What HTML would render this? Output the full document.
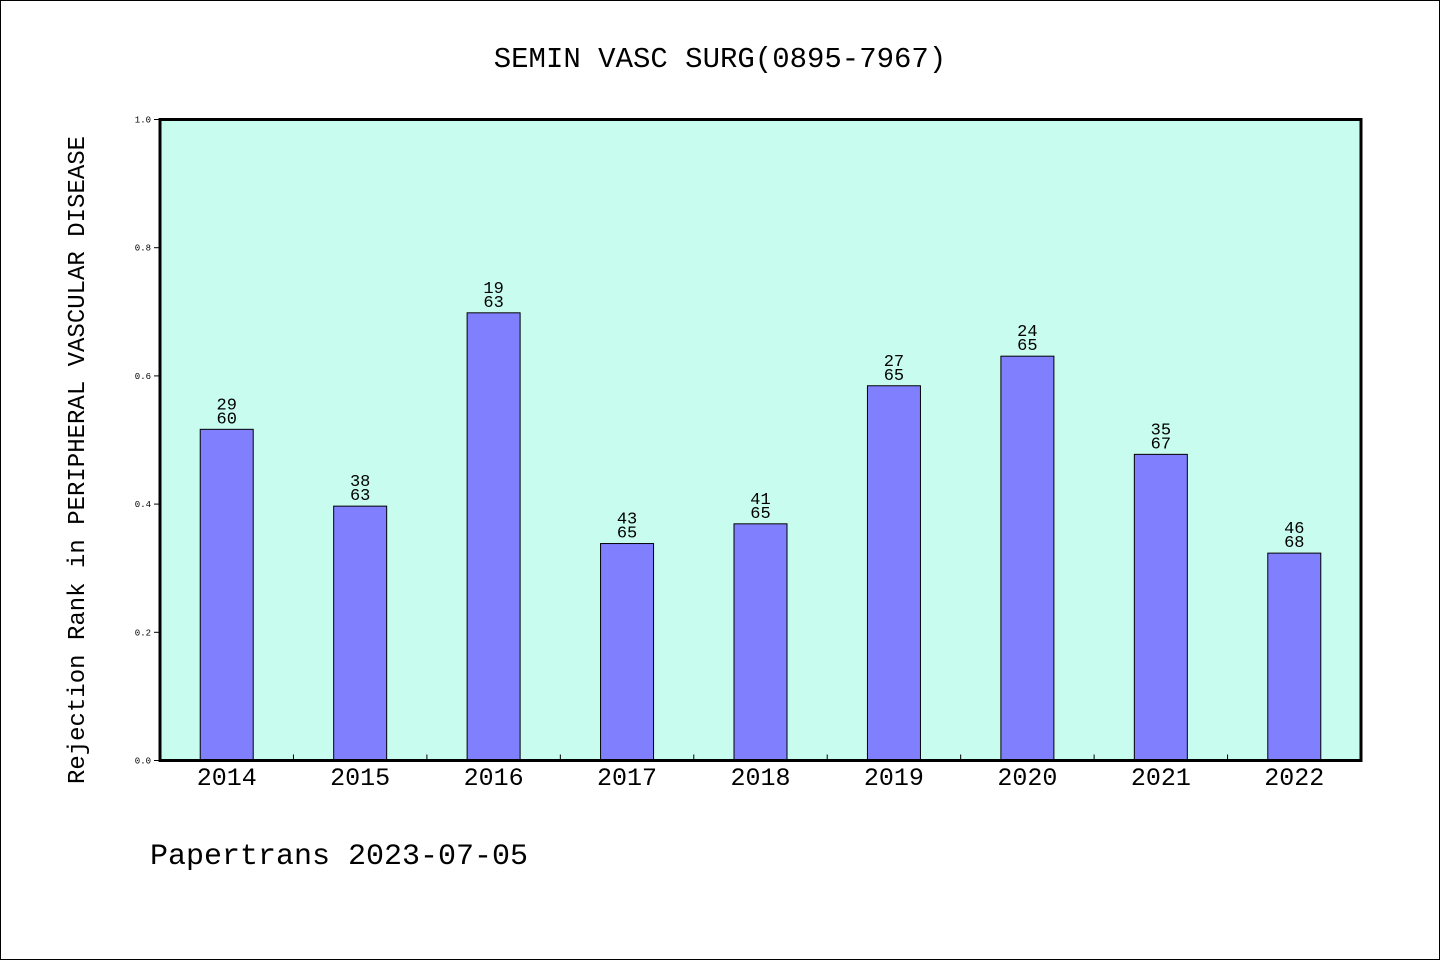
<!DOCTYPE html>
<html><head><meta charset="utf-8"><style>
html,body{margin:0;padding:0;background:#fff}
svg{display:block}
text{font-family:"Liberation Mono","WenQuanYi Zen Hei",monospace;fill:#000}
</style></head><body>
<svg id="c" width="1440" height="960" xmlns="http://www.w3.org/2000/svg">
<rect x="0.5" y="0.5" width="1439" height="959" fill="#fff" stroke="#000"/>
<text x="720" y="67" font-size="29" text-anchor="middle">SEMIN VASC SURG(0895-7967)</text>
<rect x="160" y="119.5" width="1201" height="641" fill="#c8fcee"/>
<g id="bars"></g>
<rect x="160" y="119.5" width="1201" height="641" fill="none" stroke="#000" stroke-width="3"/>
<text transform="translate(84,460) rotate(-90)" font-size="24" text-anchor="middle">Rejection Rank in PERIPHERAL VASCULAR DISEASE</text>
<text x="150" y="864" font-size="30">Papertrans 2023-07-05</text>
</svg>
<script>
const years=["2014","2015","2016","2017","2018","2019","2020","2021","2022"];
const ranks=[29,38,19,43,41,27,24,35,46];
const totals=[60,63,63,65,65,65,65,67,68];
const yTicks=["0.0","0.2","0.4","0.6","0.8","1.0"];
const X0=160,X1=1361,Y0=760.5,Y1=119.5;
const NS="http://www.w3.org/2000/svg";
const g=document.getElementById('bars');
const step=(X1-X0)/years.length;
const xc=i=>X0+step*(i+0.5);
const yv=v=>Y0-(Y0-Y1)*v;
function el(t,a,txt){const e=document.createElementNS(NS,t);for(const k in a)e.setAttribute(k,a[k]);if(txt!==undefined)e.textContent=txt;g.appendChild(e);return e;}
yTicks.forEach(t=>{const y=yv(parseFloat(t));
const l=el('line',{x1:X0-6,x2:X0,y1:y,y2:y,stroke:'#000'});


const tx=el('text',{x:X0-9,y:y+3,'font-size':9,'text-anchor':'end'},t);


});
years.forEach((yr,i)=>{
const v=1-ranks[i]/totals[i];const cx=xc(i);const bw=53;
const r=el('rect',{x:cx-bw/2,y:yv(v),width:bw,height:Y0-yv(v),fill:'#8080ff',stroke:'#000','stroke-width':1});


const a=el('text',{x:cx,y:yv(v)-20,'font-size':17,'text-anchor':'middle'},String(ranks[i]));


const b=el('text',{x:cx,y:yv(v)-6,'font-size':17,'text-anchor':'middle'},String(totals[i]));


const xl=el('text',{x:cx,y:785,'font-size':25,'text-anchor':'middle'},yr);


if(i>0){const tk=el('line',{x1:X0+step*i,x2:X0+step*i,y1:Y0,y2:Y0-6,stroke:'#000'});

}
});
</script>
</body></html>
